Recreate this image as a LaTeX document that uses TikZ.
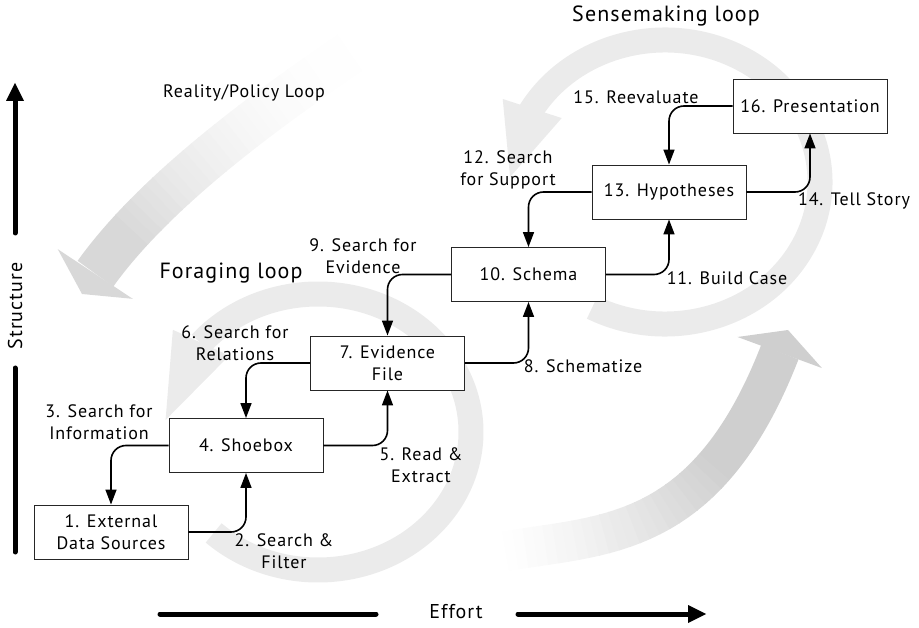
\documentclass[tikz,border=0pt]{standalone}
\usepackage{fontspec}
\setmainfont{PT Sans}[LetterSpace=5]
\usetikzlibrary{arrows.meta,bending,calc}

\definecolor{loopgray}{HTML}{EBEBEB}
\definecolor{realgray}{HTML}{D8D8D8}
\definecolor{effgray}{HTML}{CFCFCF}
\newcommand{\labelfont}{\fontsize{18}{22.5}\selectfont}
\newcommand{\loopfont}{\fontsize{22}{26}\selectfont}
\newcommand{\axisfont}{\fontsize{20}{24}\selectfont}

\tikzset{
  stagebox/.style={draw=black!85, line width=0.9pt, fill=white, minimum width=154pt,
    minimum height=54pt, inner sep=0pt, align=center, font=\labelfont},
  steplabel/.style={inner sep=0pt, align=center, font=\labelfont},
  flow/.style={line width=1.6pt, rounded corners=15pt, -{Triangle[length=15pt,width=11pt]}},
  axisline/.style={line width=5pt, line cap=round},
  loopband/.style={line width=25pt, color=loopgray},
}

\begin{document}
\begin{tikzpicture}[x=1pt,y=-1pt]
\useasboundingbox (0,0) rectangle (919,628);

% effort arrow, fading in from its tail
\def\effortpath{(496,553) .. controls (600,533) and (712,548) .. (788,330)}
\draw[line width=40pt, effgray, dash pattern=on 3000pt off 240pt, dash phase=3000pt,
  -{Triangle[length=24pt,width=90pt,line width=0pt]}] \effortpath;
\foreach \i in {0,...,23}{
  \pgfmathtruncatemacro\mix{100*(\i/24)^1.2}
  \pgfmathsetmacro\phase{3011-10*\i}
  \draw[line width=40pt, effgray!\mix!white, dash pattern=on 11pt off 3000pt, dash phase=\phase pt] \effortpath;
}

% reality/policy arrow, fading in from its tail
\def\realitypath{(391,25) .. controls (291,92) and (144,192) .. (82,294)}
\draw[line width=44pt, realgray, dash pattern=on 3000pt off 330pt, dash phase=3000pt,
  -{Triangle[length=24pt,width=90pt,line width=0pt]}] \realitypath;
\foreach \i in {0,...,32}{
  \pgfmathtruncatemacro\mix{100*(\i/33)^2.3}
  \pgfmathsetmacro\phase{3011-10*\i}
  \draw[line width=44pt, realgray!\mix!white, dash pattern=on 11pt off 3000pt, dash phase=\phase pt] \realitypath;
}

% the two loops
\draw[loopband, -{Triangle[length=85pt,width=62pt,line width=0pt]}]
  ($(318,432)+(133:153 and 138)$) arc[start angle=133, end angle=-175, x radius=153, y radius=138];
\draw[loopband, -{Triangle[length=72pt,width=62pt,line width=0pt]}]
  ($(665,182)+(118:155 and 142)$) arc[start angle=118, end angle=-178, x radius=155, y radius=142];

% stages
\node[stagebox] (ext) at (111,532) {1. External\\Data Sources};
\node[stagebox] (shoe) at (246,445.5) {4. Shoebox};
\node[stagebox] (evid) at (387.5,363) {7. Evidence\\File};
\node[stagebox] (schema) at (528.5,274.5) {10. Schema};
\node[stagebox] (hypo) at (669,192) {13. Hypotheses};
\node[stagebox] (pres) at (810,106) {16. Presentation};

\draw[flow] (ext.east) -| (shoe.south);
\draw[flow] (shoe.west) -| (ext.north);
\draw[flow] (shoe.east) -| (evid.south);
\draw[flow] (evid.west) -| (shoe.north);
\draw[flow] (evid.east) -| (schema.south);
\draw[flow] (schema.west) -| (evid.north);
\draw[flow] (schema.east) -| (hypo.south);
\draw[flow] (hypo.west) -| (schema.north);
\draw[flow] (hypo.east) -| (pres.south);
\draw[flow] (pres.west) -| (hypo.north);

\node[steplabel] (l2) at (284,551) {2. Search \&\\Filter};
\node[steplabel] (l3) at (99,422) {3. Search for\\Information};
\node[steplabel] (l5) at (421,465) {5. Read \&\\Extract};
\node[steplabel] (l6) at (235,343) {6. Search for\\Relations};
\node[steplabel] (l8) at (583,366) {8. Schematize};
\node[steplabel] (l9) at (363,256) {9. Search for\\Evidence};
\node[steplabel] (l11) at (727,278) {11. Build Case};
\node[steplabel] (l12) at (508,170) {12. Search\\for Support};
\node[steplabel] (l14) at (854,201) {14. Tell Story};
\node[steplabel] (l15) at (636,97) {15. Reevaluate};

\node[font=\loopfont, inner sep=0pt] (sense) at (666,16) {Sensemaking loop};
\node[font=\loopfont, inner sep=0pt] (forage) at (231,273) {Foraging loop};
\node[steplabel] (reality) at (244,93) {Reality/Policy Loop};

% axes
\coordinate (s0) at (15,552);
\coordinate (s1) at (15,368);
\coordinate (s2) at (15,233);
\coordinate (s3) at (15,83);
\draw[axisline] (s0) -- (s1);
\draw[axisline, -{Triangle[length=18pt,width=18pt,line width=0pt]}] (s2) -- (s3);
\node[font=\axisfont, rotate=90, inner sep=0pt] (structure) at (15,306) {Structure};

\coordinate (e0) at (160,614);
\coordinate (e1) at (376,614);
\coordinate (e2) at (518,614);
\coordinate (e3) at (706,614);
\draw[axisline] (e0) -- (e1);
\draw[axisline, -{Triangle[length=18pt,width=18pt,line width=0pt]}] (e2) -- (e3);
\node[font=\axisfont, inner sep=0pt] (effort) at (456,612) {Effort};
\end{tikzpicture}
\end{document}
